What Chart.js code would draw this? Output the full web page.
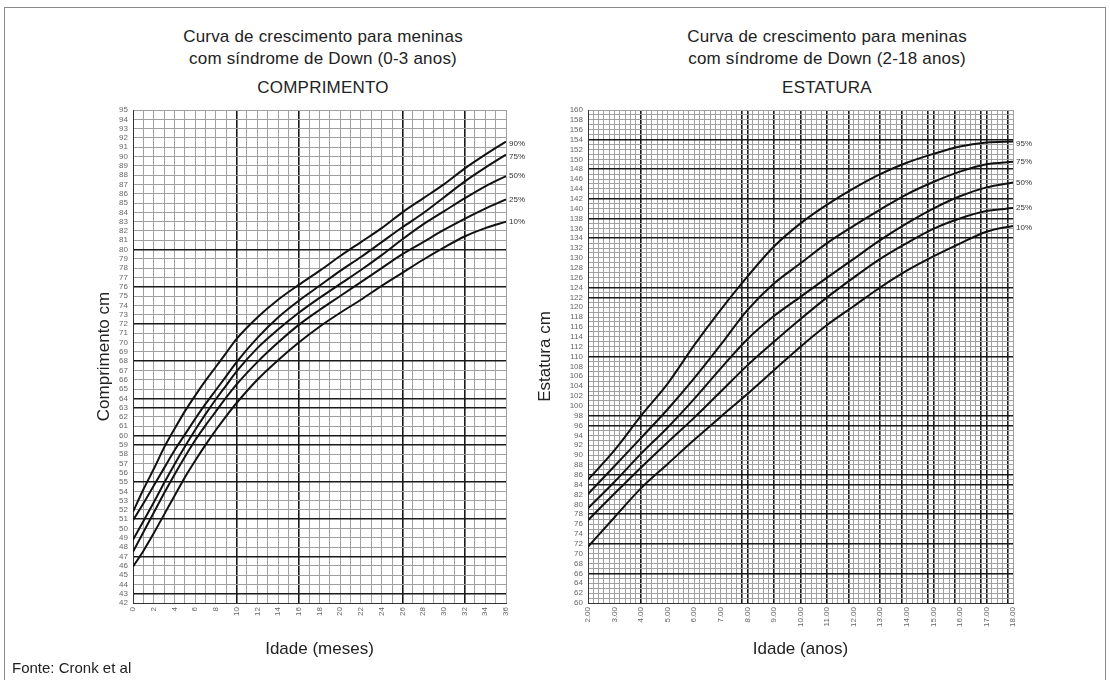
<!DOCTYPE html>
<html>
<head>
<meta charset="utf-8">
<script src="https://cdn.jsdelivr.net/npm/chart.js@4.4.1/dist/chart.umd.min.js"></script>
<style>
	body { margin:0; width:1110px; height:680px; background:#fff; position:relative; overflow:hidden; font-family:'Liberation Sans', Arial, sans-serif; color:#222; }
	.box { position:absolute; left:4px; top:7px; width:1100px; height:680px; border:1px solid #8a8a8a; border-bottom:none; }
	.head { position:absolute; width:420px; text-align:center; font-size:17px; line-height:22px; letter-spacing:0.2px; }
	.sub { position:absolute; width:420px; text-align:center; font-size:17px; letter-spacing:0.2px; }
	canvas { position:absolute; }
	.fonte { position:absolute; left:12px; top:659px; font-size:15px; }
</style>
</head>
<body>
<div class="box"></div>
<div class="head" style="left:113px; top:26px;">Curva de crescimento para meninas<br>com síndrome de Down (0-3 anos)</div>
<div class="sub" style="left:113px; top:78px;">COMPRIMENTO</div>
<div class="head" style="left:617px; top:26px;">Curva de crescimento para meninas<br>com síndrome de Down (2-18 anos)</div>
<div class="sub" style="left:617px; top:78px;">ESTATURA</div>
<canvas id="leftChart" width="490" height="570" style="left:40px; top:100px;"></canvas>
<canvas id="rightChart" width="509" height="570" style="left:530px; top:100px;"></canvas>
<div class="fonte">Fonte: Cronk et al</div>
<script>

// Left chart: length (cm) by age in months. 
const leftMonths = [0,1,2,3,4,5,6,7,8,9,10,12,14,16,18,20,22,24,26,28,30,32,34,36];
const left90 = [51.8,54.2,56.4,58.7,60.7,62.6,64.3,65.9,67.4,68.9,70.4,72.7,74.6,76.2,77.7,79.3,80.8,82.3,84.0,85.5,87.0,88.7,90.2,91.6];
const left75 = [50.9,52.7,54.6,56.5,58.4,60.1,61.8,63.4,64.9,66.4,67.9,70.5,72.7,74.5,76.1,77.7,79.2,80.8,82.4,83.9,85.6,87.3,88.8,90.2];
const left50 = [48.8,50.8,52.8,54.9,56.9,58.8,60.6,62.3,63.9,65.4,66.9,69.4,71.4,73.2,74.8,76.3,77.8,79.4,81.1,82.7,84.1,85.5,86.8,87.9];
const left25 = [47.5,49.6,51.7,53.8,55.8,57.7,59.5,61.1,62.6,64.1,65.5,67.9,70.0,71.9,73.5,75.0,76.5,78.0,79.5,80.8,82.1,83.3,84.4,85.4];
const left10 = [45.9,47.6,49.5,51.5,53.5,55.5,57.3,59.0,60.6,62.1,63.5,66.0,68.1,70.0,71.7,73.2,74.6,76.1,77.5,78.9,80.2,81.4,82.3,83.0];
const leftPercent = ['90%','75%','50%','25%','10%'];

// Right chart: height (cm) by age in years. 
const rightAges = [2,3,4,5,6,7,8,9,10,11,12,13,14,15,16,17,18];
const right95 = [85.0,91.0,98.0,104.5,112.3,119.5,126.2,132.3,137.0,140.8,144.1,147.0,149.3,151.1,152.6,153.4,153.6];
const right75 = [82.1,87.8,93.5,99.3,105.6,112.4,119.4,124.8,128.9,133.0,136.5,139.8,142.9,145.4,147.5,149.0,149.5];
const right50 = [79.2,84.6,90.3,95.6,101.4,107.6,113.5,118.2,122.1,126.0,129.8,133.6,137.0,140.0,142.5,144.3,145.3];
const right25 = [76.8,82.2,87.5,92.6,97.6,102.9,108.2,113.0,117.6,122.0,126.0,129.8,133.0,135.9,138.0,139.5,140.1];
const right10 = [71.4,77.4,83.3,88.2,93.1,97.8,102.4,107.2,112.0,116.4,120.2,124.0,127.4,130.3,132.9,135.3,136.5];
const rightPercent = ['95%','75%','50%','25%','10%'];

// Darker grid lines as printed on the original sheet. 
const leftMajorX = [10,16,26,32];
const leftMajorY = [43,47,51,55,59,60,63,64,68,72,76,80];
const rightMajorX = [4,7.8,8,9,10,11,11.8,13,13.8,14.8,15,15.8,16.8,17,17.8];
const rightMajorY = [66,72,78,84,86,96,98,110,122,124,134,138,142,148,154];


/*****/


// Build a list of values from start to end by step. 
function range(start, end, step) {
	let out = [];
	let n = Math.round((end - start) / step);
	for (let i=0 ; i<=n ; i++) {
		out.push(Math.round((start + i*step) * 10) / 10);
	}
	return out;
}

// Turn x list and y list into points. 
function points(xs, ys) {
	return xs.map((x, i) => ({x:x, y:ys[i]}));
}

// Write the percentile name after the end of each curve. 
const endLabels = {
	id:'endLabels',
	afterDatasetsDraw(chart, args, opts) {
		const ctx = chart.ctx;
		ctx.save();
		ctx.font = '8px "Liberation Sans", Arial, sans-serif';
		ctx.fillStyle = '#333';
		ctx.textBaseline = 'middle';
		chart.data.datasets.forEach((ds, i) => {
			let meta = chart.getDatasetMeta(i);
			let last = meta.data[meta.data.length - 1];
			ctx.fillText(ds.label, last.x + 3, last.y + opts.dy[i]);
		});
		ctx.restore();
	}
};

function makeChart(id, xs, series, names, cfg) {
	const canvas = document.getElementById(id).getContext('2d');
	const datasets = series.map((ys, i) => ({
		label:names[i],
		data:points(xs, ys),
		borderColor:'#111',
		borderWidth:2,
		pointRadius:0,
		fill:false,
		tension:0.3,
		cubicInterpolationMode:'monotone'
	}));
	return new Chart(canvas, {
		type:'line',
		data:{ datasets:datasets },
		plugins:[endLabels],
		options:{
			responsive:false,
			animation:false,
			devicePixelRatio:1,
			layout:{ padding:{ top:10, right:cfg.padRight, left:0, bottom:0 } },
			plugins:{
				legend:{ display:false },
				tooltip:{ enabled:false },
				endLabels:{ dy:cfg.dy }
			},
			scales:{
				x:{
					type:'linear',
					min:cfg.xMin, max:cfg.xMax,
					afterBuildTicks(scale) { scale.ticks = cfg.xTicks.map(v => ({value:v})); },
					afterFit(scale) { scale.height = 67; },
					ticks:{
						autoSkip:false, minRotation:90, maxRotation:90, padding:4,
						color:'#666', font:{ size:8 },
						callback:cfg.xLabel
					},
					grid:{
						drawTicks:false,
						color:(c) => cfg.xMajor.includes(c.tick.value) ? '#1a1a1a' : '#a0a0a0',
						lineWidth:(c) => cfg.xMajor.includes(c.tick.value) ? 1.6 : 1
					},
					border:{ color:'#333', width:1 },
					title:{ display:true, text:cfg.xTitle, color:'#222', font:{ size:17 }, padding:{ top:0, bottom:10 } }
				},
				y:{
					type:'linear',
					min:cfg.yMin, max:cfg.yMax,
					afterBuildTicks(scale) { scale.ticks = cfg.yTicks.map(v => ({value:v})); },
					afterFit(scale) { scale.width = cfg.yWidth; },
					ticks:{
						autoSkip:false, padding:5,
						color:'#666', font:{ size:8 },
						callback:cfg.yLabel
					},
					grid:{
						drawTicks:false,
						color:(c) => cfg.yMajor.includes(c.tick.value) ? '#1a1a1a' : '#a0a0a0',
						lineWidth:(c) => cfg.yMajor.includes(c.tick.value) ? 1.6 : 1
					},
					border:{ color:'#333', width:1 },
					title:{ display:true, text:cfg.yTitle, color:'#222', font:{ size:17 }, padding:{ top:cfg.yTitlePad, bottom:0 } }
				}
			}
		}
	});
}

Chart.defaults.font.family = '"Liberation Sans", Arial, sans-serif';

// Comprimento, 0-36 months. 
makeChart('leftChart', leftMonths, [left90,left75,left50,left25,left10], leftPercent, {
	xMin:0, xMax:36, yMin:42, yMax:95,
	xTicks:range(0, 36, 1),
	yTicks:range(42, 95, 1),
	xLabel:(v) => (v % 2 === 0) ? String(v) : '',
	yLabel:(v) => String(v),
	xMajor:leftMajorX, yMajor:leftMajorY,
	xTitle:'Idade (meses)', yTitle:'Comprimento cm',
	yWidth:93, yTitlePad:54, padRight:24,
	dy:[2,2,0,0,0]
});

// Estatura, 2-18 years. 
makeChart('rightChart', rightAges, [right95,right75,right50,right25,right10], rightPercent, {
	xMin:2, xMax:18, yMin:60, yMax:160,
	xTicks:range(2, 18, 0.2),
	yTicks:range(60, 160, 1),
	xLabel:(v) => Number.isInteger(v) ? v.toFixed(2) : '',
	yLabel:(v) => (v % 2 === 0) ? String(v) : '',
	xMajor:rightMajorX, yMajor:rightMajorY,
	xTitle:'Idade (anos)', yTitle:'Estatura cm',
	yWidth:58, yTitlePad:5, padRight:26,
	dy:[2,0,0,0,2]
});

</script>
</body>
</html>
